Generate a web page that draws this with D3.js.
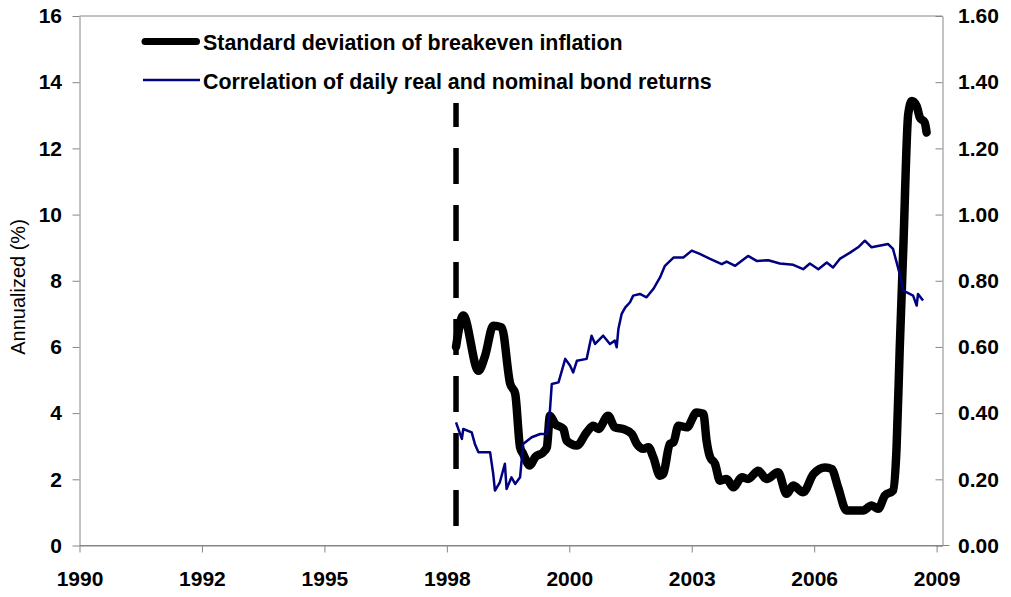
<!DOCTYPE html>
<html>
<head>
<meta charset="utf-8">
<script src="https://cdn.jsdelivr.net/npm/d3@7"></script>
<style>
  html, body { margin: 0; padding: 0; background: #fff; }
  svg { display: block; font-family: "Liberation Sans", Arial, sans-serif; }
</style>
</head>
<body>
<svg id="chart" width="1011" height="597"></svg>
<script>
// Values. Dates are fractional years.
const stdYears = [1998.42, 1998.58, 1998.92, 1999.07, 1999.25, 1999.44, 1999.63, 1999.74, 1999.85, 1999.92,
  2000.07, 2000.19, 2000.37, 2000.45, 2000.52, 2000.63, 2000.82, 2000.89, 2001.12, 2001.34,
  2001.49, 2001.60, 2001.82, 2001.97, 2002.16, 2002.35, 2002.46, 2002.61, 2002.72, 2002.83,
  2002.98, 2003.05, 2003.20, 2003.28, 2003.39, 2003.58, 2003.80, 2003.95, 2004.02, 2004.10,
  2004.21, 2004.32, 2004.47, 2004.62, 2004.81, 2004.95, 2005.18, 2005.36, 2005.62, 2005.81,
  2005.96, 2006.18, 2006.41, 2006.67, 2006.82, 2006.96, 2007.15, 2007.52, 2007.71, 2007.86,
  2008.01, 2008.19, 2008.27, 2008.34, 2008.42, 2008.53, 2008.61, 2008.72, 2008.79, 2008.90, 2008.94];
const stdValues = [6.0, 6.95, 5.28, 5.74, 6.64, 6.59, 4.89, 4.59, 2.97, 2.77,
  2.42, 2.67, 2.82, 2.97, 3.92, 3.68, 3.52, 3.17, 3.02, 3.42,
  3.62, 3.52, 3.92, 3.57, 3.52, 3.37, 3.07, 2.92, 2.97, 2.67,
  2.11, 2.16, 3.07, 3.12, 3.62, 3.57, 4.02, 3.98, 3.17, 2.67,
  2.47, 1.96, 2.01, 1.76, 2.06, 2.01, 2.26, 2.01, 2.21, 1.56,
  1.81, 1.61, 2.16, 2.36, 2.31, 1.76, 1.06, 1.06, 1.21, 1.11,
  1.51, 1.66, 2.97, 5.99, 9.0, 13.03, 13.43, 13.28, 12.93, 12.78, 12.48];

const corrYears = [1998.42, 1998.47, 1998.55, 1998.58, 1998.77, 1998.84, 1998.92, 1999.18, 1999.25, 1999.29,
  1999.40, 1999.51, 1999.55, 1999.66, 1999.74, 1999.85, 1999.92, 2000.11, 2000.30, 2000.45,
  2000.52, 2000.56, 2000.71, 2000.86, 2000.97, 2001.04, 2001.12, 2001.34, 2001.45, 2001.53,
  2001.71, 2001.86, 2001.97, 2002.01, 2002.05, 2002.12, 2002.20, 2002.31, 2002.38, 2002.53,
  2002.68, 2002.83, 2002.98, 2003.09, 2003.28, 2003.50, 2003.69, 2003.87, 2004.10, 2004.36,
  2004.47, 2004.66, 2004.95, 2005.14, 2005.40, 2005.66, 2005.96, 2006.18, 2006.33, 2006.52,
  2006.71, 2006.85, 2007.00, 2007.23, 2007.41, 2007.56, 2007.71, 2008.08, 2008.19, 2008.34,
  2008.42, 2008.64, 2008.72, 2008.75, 2008.86];
const corrValues = [0.372, 0.352, 0.322, 0.352, 0.342, 0.307, 0.282, 0.282, 0.216, 0.166,
  0.191, 0.247, 0.171, 0.206, 0.186, 0.206, 0.307, 0.327, 0.337, 0.337,
  0.408, 0.488, 0.493, 0.564, 0.543, 0.523, 0.558, 0.564, 0.634, 0.609,
  0.634, 0.609, 0.619, 0.599, 0.654, 0.699, 0.719, 0.735, 0.755, 0.760,
  0.750, 0.775, 0.810, 0.845, 0.870, 0.870, 0.891, 0.881, 0.866, 0.850,
  0.858, 0.845, 0.875, 0.860, 0.862, 0.852, 0.848, 0.835, 0.852, 0.835,
  0.855, 0.840, 0.866, 0.885, 0.901, 0.921, 0.901, 0.911, 0.896, 0.820,
  0.770, 0.755, 0.725, 0.760, 0.740];

// vertical dashed marker
const eventYear = 1998.42;
const eventTop = 13.37;

const leftTicks = [0, 2, 4, 6, 8, 10, 12, 14, 16];
const rightTicks = [0, 0.2, 0.4, 0.6, 0.8, 1.0, 1.2, 1.4, 1.6];
const tickStepDays = 1000;   // Excel date axis major unit
const tickCount = 8;
const axisDays = 7048;
const seriesNames = ["Standard deviation of breakeven inflation", "Correlation of daily real and nominal bond returns"];
const yTitle = "Annualized (%)";

const start = new Date(1990, 0, 1);
const toDate = yr => d3.timeDay.offset(start, Math.round((yr - 1990) * 365.25));

const plot = {left: 79.5, right: 942.5, top: 16, bottom: 545.5};
const axisColor = "#868686";

const x = d3.scaleTime([start, d3.timeDay.offset(start, axisDays)], [plot.left, plot.right]);
const yL = d3.scaleLinear([0, 16], [plot.bottom, plot.top]);
const yR = d3.scaleLinear([0, 1.6], [plot.bottom, plot.top]);

const svg = d3.select("#chart");

// top border
svg.append("line")
  .attr("x1", plot.left).attr("x2", plot.right).attr("y1", plot.top).attr("y2", plot.top)
  .attr("stroke", axisColor);

// extend baseline slightly past right axis
svg.append("line")
  .attr("x1", plot.left).attr("x2", plot.right + 7).attr("y1", plot.bottom).attr("y2", plot.bottom)
  .attr("stroke", axisColor);

function styleAxis(g) {
  g.select(".domain").attr("stroke", axisColor);
  g.selectAll(".tick line").attr("stroke", axisColor);
  g.selectAll(".tick text")
    .attr("fill", "#000")
    .style("font-size", "21px")
    .style("font-weight", "bold")
    .style("font-family", '"Liberation Sans", Arial, sans-serif');
}

svg.append("g")
  .attr("transform", `translate(${plot.left},0)`)
  .call(d3.axisLeft(yL).tickValues(leftTicks).tickSize(7).tickSizeOuter(0).tickPadding(10.5))
  .call(styleAxis);

svg.append("g")
  .attr("transform", `translate(${plot.right},0)`)
  .call(d3.axisRight(yR).tickValues(rightTicks).tickSize(-7).tickSizeOuter(0).tickPadding(15.5)
    .tickFormat(d3.format(".2f")))
  .call(styleAxis);

const xTicks = d3.range(tickCount).map(k => d3.timeDay.offset(start, k * tickStepDays));
svg.append("g")
  .attr("transform", `translate(0,${plot.bottom})`)
  .call(d3.axisBottom(x).tickValues(xTicks).tickSize(7).tickSizeOuter(0).tickPadding(19)
    .tickFormat(d3.timeFormat("%Y")))
  .call(styleAxis);

// y title
svg.append("text")
  .attr("transform", `translate(25,287) rotate(-90)`)
  .attr("text-anchor", "middle")
  .style("font-size", "20px")
  .text(yTitle);

// dashed vertical marker
const ex = x(toDate(eventYear));
svg.append("line")
  .attr("x1", ex).attr("x2", ex)
  .attr("y1", yL(eventTop)).attr("y2", yL(0))
  .attr("stroke", "#000")
  .attr("stroke-width", 5.5)
  .attr("stroke-dasharray", "36,21")
  .attr("stroke-dashoffset", 12);

const stdData = stdYears.map((yr, i) => [toDate(yr), stdValues[i]]);
const corrData = corrYears.map((yr, i) => [toDate(yr), corrValues[i]]);

svg.append("path")
  .datum(stdData)
  .attr("fill", "none")
  .attr("stroke", "#000")
  .attr("stroke-width", 8.5)
  .attr("stroke-linejoin", "round")
  .attr("stroke-linecap", "round")
  .attr("d", d3.line().x(d => x(d[0])).y(d => yL(d[1])).curve(d3.curveMonotoneX));

svg.append("path")
  .datum(corrData)
  .attr("fill", "none")
  .attr("stroke", "#000080")
  .attr("stroke-width", 2.5)
  .attr("stroke-linejoin", "round")
  .attr("d", d3.line().x(d => x(d[0])).y(d => yR(d[1])));

// legend
const legend = svg.append("g");
const legendRows = [
  {name: seriesNames[0], color: "#000", width: 7, y: 41.5, x1: 145, x2: 196.5, cap: "round"},
  {name: seriesNames[1], color: "#000080", width: 2.5, y: 80, x1: 143, x2: 200, cap: "butt"}
];
legendRows.forEach(r => {
  legend.append("line")
    .attr("x1", r.x1).attr("x2", r.x2).attr("y1", r.y).attr("y2", r.y)
    .attr("stroke", r.color).attr("stroke-width", r.width).attr("stroke-linecap", r.cap);
  legend.append("text")
    .attr("x", 203).attr("y", r.y + 8.5)
    .style("font-size", "21.4px")
    .style("font-weight", "bold")
    .text(r.name);
});
</script>
</body>
</html>
